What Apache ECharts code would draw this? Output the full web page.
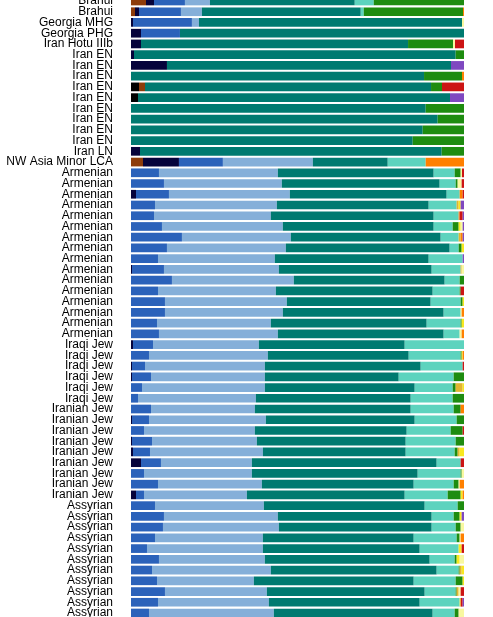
<!DOCTYPE html>
<html>
<head>
<meta charset="utf-8">
<script src="https://cdn.jsdelivr.net/npm/echarts@6/dist/echarts.min.js"></script>
<style>
  html, body { margin: 0; padding: 0; background: #fff; overflow: hidden; }
  #wrap { position: relative; width: 493px; height: 617px; overflow: hidden; }
  /* chart is cut at top and bottom like the reference */
  #chart { position: absolute; left: 0; top: -5px; width: 493px; height: 624px; }
</style>
</head>
<body>
<div id="wrap"><div id="chart"></div></div>
<script>
// sample groups, top to bottom
const groups = [
    ['Brahui', 2], ['Georgia MHG', 1], ['Georgia PHG', 1], ['Iran Hotu IIIb', 1],
    ['Iran EN', 9], ['Iran LN', 1], ['NW Asia Minor LCA', 1], ['Armenian', 16],
    ['Iraqi Jew', 6], ['Iranian Jew', 9], ['Assyrian', 11]
];
const samples = groups.flatMap(g => Array(g[1]).fill(g[0]));

// ancestry proportions (%) per component, one value per sample row
const black = [
    0,0,0,0,0,0,0,0,2.4,2.1,
    0,0,0,0,0,0,0,0,0,0,
    0,0,0,0,0,0,0,0,0,0,
    0,0,0,0,0,0,0,0,0,0,
    0,0,0,0,0,0,0,0,0,0,
    0,0,0,0,0,0,0,0
];
const brown = [
    4.5,1.2,0,0,0,0,0,0,1.8,0,
    0,0,0,0,0,3.6,0,0,0,0,
    0,0,0,0,0,0,0,0,0,0,
    0,0,0,0,0,0,0,0,0,0,
    0,0,0,0,0,0,0,0,0,0,
    0,0,0,0,0,0,0,0
];
const navy = [
    2.4,1.2,0.6,3,3,0.9,10.8,0,0,0,
    0,0,0,0,2.7,10.8,0,0,1.5,0,
    0,0,0,0,0,0.3,0,0,0,0,
    0,0,0.6,0,0.3,0.3,0,0,0,0.3,
    0,0.3,0.6,3,0,0,1.5,0,0,0,
    0,0,0,0,0,0,0,0
];
const blue = [
    9.3,12.6,17.7,11.7,0,0,0,0,0,0,
    0,0,0,0,0,13.2,8.4,9.9,9.9,7.2,
    6.9,9.3,15.3,10.8,8.1,9.6,12.3,8.1,10.2,10.2,
    7.8,8.4,6,5.4,3.9,5.7,3.3,2.1,6,5.1,
    3.9,6,5.1,6,3.9,8.1,2.4,7.2,9.9,9.6,
    7.2,4.8,8.4,6.3,7.8,10.2,8.1,5.4
];
const lightBlue = [
    7.5,6.3,2.1,0,0,0,0,0,0,0,
    0,0,0,0,0,27,35.7,35.4,36.3,36.6,
    35.1,36.3,32.7,35.7,35.1,34.5,36.6,35.4,36.6,35.4,
    34.2,35.7,31.8,35.7,36,34.2,36.9,35.4,31.2,35.1,
    33.3,31.5,33.9,27.3,32.4,31.2,30.9,32.7,34.2,34.8,
    32.4,34.8,31.8,35.7,29.1,30.6,33.3,37.5
];
const teal = [
    43.5,47.7,79,85.3,80.2,96.6,85.3,88,85.9,93.7,
    88.5,92.1,87.6,84.6,90.6,22.5,46.8,47.4,47.1,45.6,
    48.9,45.3,45,49.2,46.2,45.9,45.3,47.1,43.2,48.3,
    46.8,49.8,43.8,42.3,46.8,40.2,45,46.5,46.8,44.7,
    45.6,44.7,42.9,55.5,49.8,45.6,47.4,48.3,46.2,45.9,
    45.3,47.1,49.5,49.8,48,47.4,45.3,47.7
];
const aqua = [
    5.7,0.9,0,0,0,0,0,0,0,0,
    0,0,0,0,0,11.4,6.3,4.8,3.9,8.4,
    7.5,5.7,5.4,2.7,10.2,8.7,4.5,8.1,9,5.1,
    10.2,4.8,17.8,15.6,12.6,16.5,11.4,12.6,12.9,12.6,
    13.2,15,14.7,7.2,12.9,12,12.9,9.9,6.6,7.2,
    12.9,11.7,7.5,6.6,12.6,9.3,12,6.6
];
const green = [
    27.1,29.8,0,0,13.5,2.5,0,11.4,3.3,0,
    11.5,7.9,12.4,15.4,6.7,0,1.8,0.6,0,0,
    0,1.8,0,0.9,0,0,1.3,0.3,0.6,0,
    0.3,0,0,0.3,0,3.1,0.9,3.4,2.1,2.2,
    3.6,2.5,0.9,0,0.3,1.5,3.9,1.9,1.8,1.5,
    0.9,0,0.6,0.3,2.1,0.3,0,1.2
];
const gold = [
    0,0,0,0,0,0,0,0,0,0,
    0,0,0,0,0,0,0,0,0,0.6,
    0,0,0.6,0,0,0.3,0,0,0,0,
    0,0,0,0,0,0,2.1,0,0,0,
    0,0,0.6,0,0,0,0,0,0,0,
    0,0,0,0.6,0,0.6,0,0
];
const yellow = [
    0,0,0,0,0,0,0,0,0,0,
    0,0,0,0,0,0,0,0,0,0.6,
    0,0.6,0,0.7,0,0,0,0,0.4,0,
    0.7,0,0,0.3,0,0,0.4,0,0,0,
    0,0,1.3,0,0,0,0.6,0,0.6,0,
    0,0.9,0.9,0.7,0.4,0,0.3,0
];
const lightYellow = [
    0,0,0.6,0,0.6,0,0,0,0,0,
    0,0,0,0,0,0,0.4,1.2,0,0,
    0,0.6,0,0,0,0.7,0,0,0,0.3,
    0,0.6,0,0,0,0,0,0,0,0,
    0,0,0,0,0.7,0.3,0,0,0,1.0,
    0.3,0,1.3,0,0,0.6,0,1.6
];
const orange = [
    0,0.3,0,0,0,0,0,0.6,0,0,
    0,0,0,0,0,11.5,0,0,0.9,0,
    0.3,0,0.6,0,0,0,0,0,0,0.7,
    0,0.7,0,0.4,0,0,0,0,1.0,0,
    0,0,0,0,0,1.3,0.4,0,0,0,
    1.0,0,0,0,0,0,0,0
];
const red = [
    0,0,0,0,2.7,0,0,0,6.6,0,
    0,0,0,0,0,0,0.6,0.7,0.4,0,
    0.9,0,0,0,0,0,0,1.0,0,0,
    0,0,0,0,0.4,0,0,0,0,0,
    0.4,0,0,1.0,0,0,0,0,0,0,
    0,0.7,0,0,0,1.0,0.6,0
];
const purple = [
    0,0,0,0,0,0,3.9,0,0,4.2,
    0,0,0,0,0,0,0,0,0,1.0,
    0.4,0.4,0.4,0,0.4,0,0,0,0,0,
    0,0,0,0,0,0,0,0,0,0,
    0,0,0,0,0,0,0,0,0.7,0,
    0,0,0,0,0,0,0.4,0
];

const components = [
    { values: black, color: '#000000' },
    { values: brown, color: '#8E3C0A' },
    { values: navy, color: '#06033B' },
    { values: blue, color: '#2B62BA' },
    { values: lightBlue, color: '#85AFD9' },
    { values: teal, color: '#007A70' },
    { values: aqua, color: '#5DD3BE' },
    { values: green, color: '#1E8C10' },
    { values: gold, color: '#E1B530' },
    { values: yellow, color: '#F8E81E' },
    { values: lightYellow, color: '#F8F8A0' },
    { values: orange, color: '#FF8000' },
    { values: red, color: '#CC1414' },
    { values: purple, color: '#7F48C0' }
];

const chart = echarts.init(document.getElementById('chart'));

chart.setOption({
    animation: false,
    grid: {
        left: 131,
        right: 29,
        top: 0,
        bottom: 0.5,
        containLabel: false
    },
    xAxis: {
        type: 'value',
        min: 0,
        max: 100,
        show: false
    },
    yAxis: {
        type: 'category',
        data: samples,
        inverse: true,
        axisLine: { show: false },
        axisTick: { show: false },
        splitLine: { show: false },
        axisLabel: {
            interval: 0,
            margin: 18,
            fontSize: 12,
            fontFamily: '"Liberation Sans", Arial, sans-serif',
            color: '#000000'
        }
    },
    series: components.map(c => ({
        type: 'bar',
        stack: 'total',
        data: c.values,
        barWidth: '81%',
        silent: true,
        itemStyle: { color: c.color }
    }))
});
</script>
</body>
</html>
